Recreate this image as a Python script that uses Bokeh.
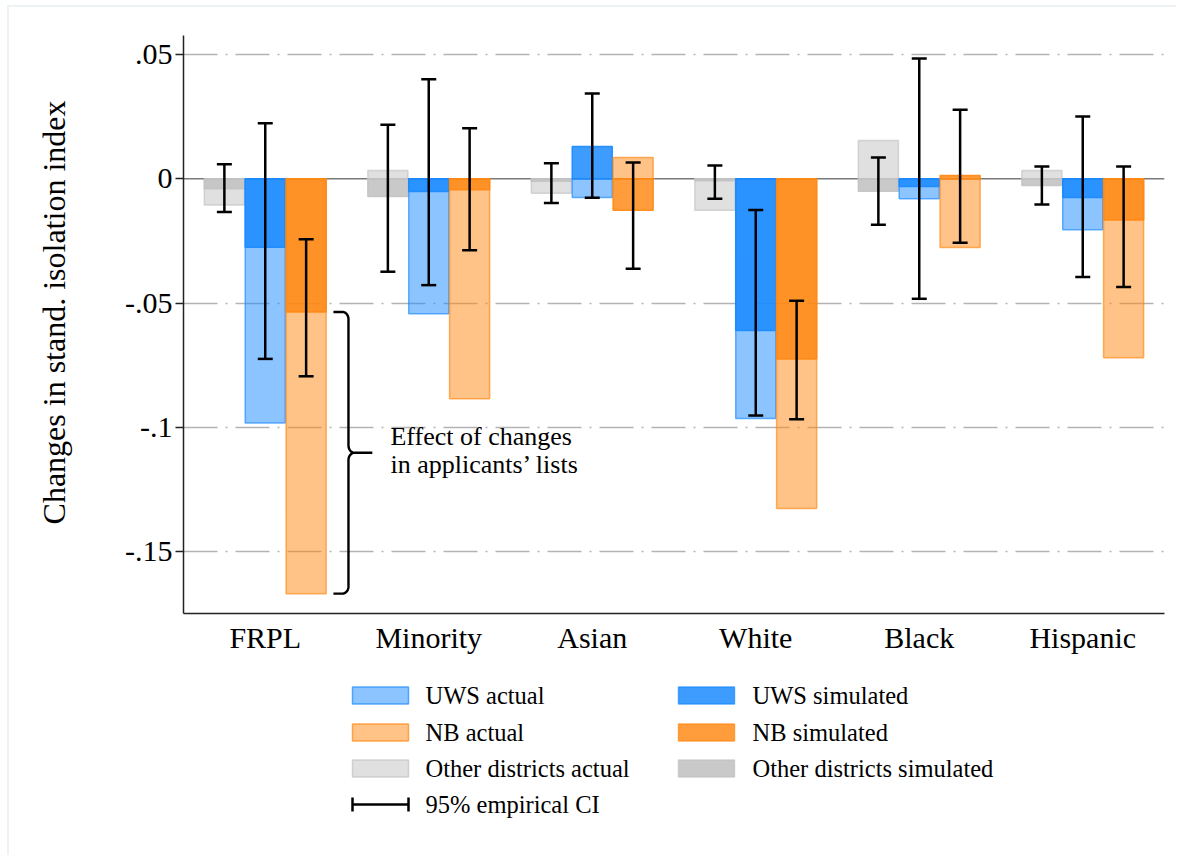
import numpy as np
from bokeh.plotting import figure
from bokeh.models import (ColumnDataSource, Range1d, FixedTicker, Span, Whisker,
                          TeeHead, CustomJSTickFormatter)
from bokeh.transform import dodge
from bokeh.layouts import column
from bokeh.core.properties import value
from bokeh.embed import file_html
from bokeh.resources import INLINE

# ---------------- data ----------------
categories = ["FRPL", "Minority", "Asian", "White", "Black", "Hispanic"]

other_actual = [-0.0105, 0.0033, -0.0058, -0.0127, 0.0154, 0.0033]
other_sim    = [-0.0040, -0.0071, -0.0010, -0.0008, -0.0050, -0.0027]
uws_actual   = [-0.0983, -0.0543, -0.0075, -0.0965, -0.0080, -0.0205]
uws_sim      = [-0.0275, -0.0051, 0.0130, -0.0611, -0.0031, -0.0075]
nb_actual    = [-0.1670, -0.0885, 0.0086, -0.1327, -0.0276, -0.0720]
nb_sim       = [-0.0536, -0.0044, -0.0127, -0.0725, 0.0013, -0.0166]

other_lo = [-0.0134, -0.0374, -0.0097, -0.0080, -0.0185, -0.0103]
other_hi = [0.0059, 0.0218, 0.0063, 0.0054, 0.0086, 0.0050]
uws_lo   = [-0.0725, -0.0428, -0.0076, -0.0953, -0.0483, -0.0395]
uws_hi   = [0.0224, 0.0401, 0.0343, -0.0126, 0.0484, 0.0251]
nb_lo    = [-0.0795, -0.0288, -0.0362, -0.0968, -0.0257, -0.0436]
nb_hi    = [-0.0243, 0.0204, 0.0066, -0.0491, 0.0278, 0.0050]

y_ticks = [0.05, 0.0, -0.05, -0.1, -0.15]
y_tick_labels = [".05", "0", "-.05", "-.1", "-.15"]

y_label = "Changes in stand. isolation index"
annotation_lines = ["Effect of changes", "in applicants\u2019 lists"]

legend_labels = ["UWS actual", "UWS simulated", "NB actual", "NB simulated",
                 "Other districts actual", "Other districts simulated"]
ci_label = "95% empirical CI"

# ---------------- styles ----------------
FONT = "Liberation Serif"
BLUE = "#1989ff"
ORANGE = "#ff8711"
GRAY = "#c2c2c2"
A_ACT = 0.5
BAR_W = 0.245
OFFS = {"other": -0.25, "uws": 0.0, "nb": 0.25}
BASE = {"other": GRAY, "uws": BLUE, "nb": ORANGE}
SIM_ALPHA = {"other": 0.88, "uws": 0.84, "nb": 0.82}

x_pos = list(range(1, len(categories) + 1))
src = ColumnDataSource(dict(
    x=x_pos, cat=categories,
    other_actual=other_actual, other_sim=other_sim,
    uws_actual=uws_actual, uws_sim=uws_sim,
    nb_actual=nb_actual, nb_sim=nb_sim,
    other_lo=other_lo, other_hi=other_hi,
    uws_lo=uws_lo, uws_hi=uws_hi,
    nb_lo=nb_lo, nb_hi=nb_hi,
))

FW, FH = 981, 578
BL, BR = 174, 12
p = figure(frame_width=FW, frame_height=FH,
           x_range=Range1d(0.5, 6.5), y_range=Range1d(-0.175, 0.0577),
           output_backend="svg", toolbar_location=None,
           min_border_left=BL, min_border_right=BR,
           min_border_top=28, min_border_bottom=59)
p.outline_line_color = None
p.background_fill_color = "white"
p.border_fill_color = "white"

# grid (dash-dot) and zero line
p.xgrid.visible = False
p.ygrid.ticker = FixedTicker(ticks=[t for t in y_ticks if t != 0])
p.ygrid.grid_line_color = "#b3b3b3"
p.ygrid.grid_line_width = 1.6
p.ygrid.grid_line_dash = "34 8 2 8"
zero = Span(location=0, dimension="width", line_color="#7a7a7a",
            line_width=1.6, level="underlay")
p.add_layout(zero)

# bars and CIs
for key in ["other", "uws", "nb"]:
    off = OFFS[key]
    col = BASE[key]
    p.vbar(x=dodge("x", off, range=p.x_range), top=f"{key}_actual", bottom=0,
           width=BAR_W, source=src, fill_color=col, fill_alpha=A_ACT,
           line_color=col, line_alpha=0.65, line_width=1.5)
    p.vbar(x=dodge("x", off, range=p.x_range), top=f"{key}_sim", bottom=0,
           width=BAR_W, source=src, fill_color=col, fill_alpha=SIM_ALPHA[key],
           line_color=col, line_alpha=0.9, line_width=1.5)

for key in ["other", "uws", "nb"]:
    off = OFFS[key]
    w = Whisker(base=dodge("x", off, range=p.x_range),
                upper=f"{key}_hi", lower=f"{key}_lo", source=src,
                line_color="black", line_width=2.5,
                upper_head=TeeHead(size=15, line_width=2.5, line_color="black"),
                lower_head=TeeHead(size=15, line_width=2.5, line_color="black"),
                level="annotation")
    p.add_layout(w)

# curly brace: effect of changes in applicants' lists (FRPL, NB)
top = nb_sim[0]
bot = nb_actual[0]
mid = (top + bot) / 2
x0 = x_pos[0]
xh, xs, xt = x0 + 0.417, x0 + 0.509, x0 + 0.655
rx, ry = 0.037, 0.0029


def arc(cx, cy, a0, a1, n=10):
    t = np.linspace(np.radians(a0), np.radians(a1), n)
    return list(cx + rx * np.cos(t)), list(cy + ry * np.sin(t))


bx, by = [xh], [top]
for seg in [arc(xs - rx, top - ry, 90, 0), arc(xs + rx, mid + ry, 180, 270)]:
    bx += seg[0]; by += seg[1]
bx += [xt]; by += [mid]
for seg in [arc(xs + rx, mid - ry, 90, 180), arc(xs - rx, bot + ry, 0, -90)]:
    bx += seg[0]; by += seg[1]
bx += [xh]; by += [bot]
p.line(bx, by, line_color="black", line_width=2.4)

p.text(x=[x0 + 0.766] * len(annotation_lines),
       y=[mid + 0.0064 - 0.0113 * i for i in range(len(annotation_lines))],
       text=annotation_lines, text_font=value(FONT), text_font_size="26px",
       text_baseline="middle", text_align="left", text_color="black")

# axes
p.yaxis.ticker = FixedTicker(ticks=y_ticks)
p.yaxis.formatter = CustomJSTickFormatter(
    args=dict(yvals=y_ticks, ylabs=y_tick_labels),
    code="const i = yvals.findIndex(t => Math.abs(t - tick) < 1e-9); return i >= 0 ? ylabs[i] : '';")
p.yaxis.axis_label = "\u00a0\u00a0\u00a0" + y_label
p.yaxis.axis_label_text_font = FONT
p.yaxis.axis_label_text_font_size = "32px"
p.yaxis.axis_label_text_font_style = "normal"
p.yaxis.axis_label_text_color = "black"
p.yaxis.axis_label_standoff = 50
p.yaxis.major_label_text_font = FONT
p.yaxis.major_label_text_font_size = "30px"
p.yaxis.major_label_text_color = "black"
p.yaxis.major_label_standoff = 3
p.yaxis.major_tick_out = 8
p.yaxis.major_tick_in = 0
p.yaxis.minor_tick_line_color = None
p.yaxis.axis_line_color = "#222222"
p.yaxis.axis_line_width = 1.5
p.yaxis.major_tick_line_color = "#222222"
p.yaxis.major_tick_line_width = 1.5

p.xaxis.ticker = FixedTicker(ticks=x_pos)
p.xaxis.formatter = CustomJSTickFormatter(
    args=dict(catlabs=categories),
    code="const i = Math.round(tick) - 1; return (i >= 0 && i < catlabs.length) ? catlabs[i] : '';")
p.xaxis.major_label_text_font = FONT
p.xaxis.major_label_text_font_size = "30px"
p.xaxis.major_label_text_color = "black"
p.xaxis.major_label_standoff = 1
p.xaxis.major_tick_line_color = None
p.xaxis.minor_tick_line_color = None
p.xaxis.axis_line_color = "#222222"
p.xaxis.axis_line_width = 1.5

# ---------------- legend panel (frame aligned with the plot frame) ----------------
LH = 183
lg = figure(frame_width=FW, frame_height=LH, x_range=Range1d(0, FW),
            y_range=Range1d(LH, 0), output_backend="svg", toolbar_location=None,
            x_axis_type=None, y_axis_type=None,
            min_border_left=BL, min_border_right=BR,
            min_border_top=0, min_border_bottom=0)
lg.outline_line_color = None
lg.xgrid.visible = False
lg.ygrid.visible = False

col_sw = [169, 495]
col_tx = [242, 569]
row_y = [23, 60, 96, 132]
SW_W, SW_H = 56, 17

leg_keys = ["uws", "uws", "nb", "nb", "other", "other"]
leg_alpha = [A_ACT, SIM_ALPHA["uws"], A_ACT, SIM_ALPHA["nb"], A_ACT, SIM_ALPHA["other"]]
n_leg = len(legend_labels)
lsrc = ColumnDataSource(dict(
    left=[col_sw[i % 2] for i in range(n_leg)],
    right=[col_sw[i % 2] + SW_W for i in range(n_leg)],
    top=[row_y[i // 2] - SW_H / 2 for i in range(n_leg)],
    bottom=[row_y[i // 2] + SW_H / 2 for i in range(n_leg)],
    color=[BASE[k] for k in leg_keys],
    alpha=leg_alpha,
    tx=[col_tx[i % 2] for i in range(n_leg)],
    ty=[row_y[i // 2] for i in range(n_leg)],
    label=legend_labels,
))
lg.quad(left="left", right="right", top="top", bottom="bottom", source=lsrc,
        fill_color="color", fill_alpha="alpha", line_color="color",
        line_alpha=0.7, line_width=1.5)
lg.text(x="tx", y="ty", text="label", source=lsrc, text_font=value(FONT),
        text_font_size="24.5px", text_baseline="middle", text_color="black")

# CI symbol
cy = row_y[3]
lg.segment(x0=[col_sw[0], col_sw[0], col_sw[0] + SW_W],
           y0=[cy, cy - 7, cy - 7],
           x1=[col_sw[0] + SW_W, col_sw[0], col_sw[0] + SW_W],
           y1=[cy, cy + 7, cy + 7], line_color="black", line_width=2.5)
lg.text(x=[col_tx[0]], y=[cy], text=[ci_label], text_font=value(FONT),
        text_font_size="24.5px", text_baseline="middle", text_color="black")

layout = column(p, lg, styles={"border-left": "2px solid #edf3f4",
                               "border-top": "2px solid #edf3f4",
                               "margin-left": "7px", "margin-top": "5px"})

open("out.html", "w").write(file_html(layout, INLINE))
